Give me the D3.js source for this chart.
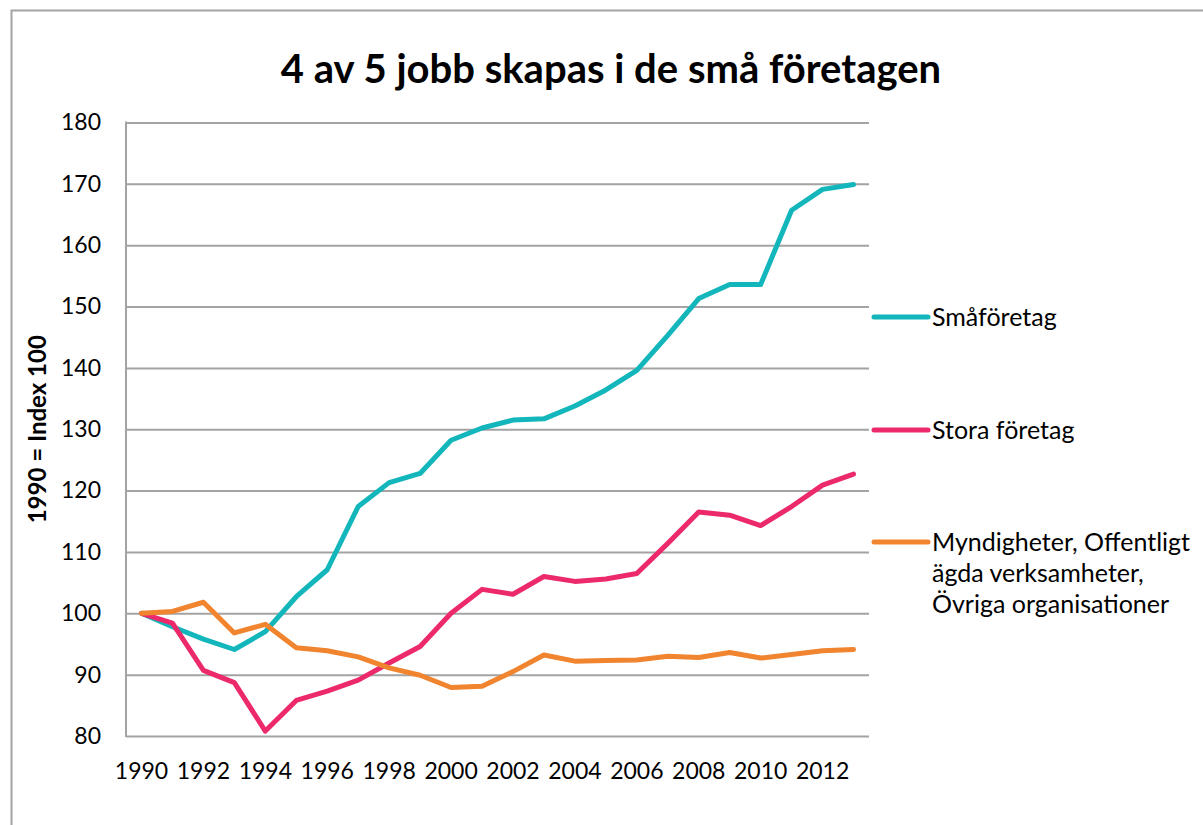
<!DOCTYPE html>
<html>
<head>
<meta charset="utf-8">
<script src="https://cdn.jsdelivr.net/npm/d3@7"></script>
<style>
  body { margin: 0; background: #fff; }
  svg text { font-family: Lato, "Open Sans", sans-serif; fill: #000; }
  .grid line { stroke: #a3a3a3; stroke-width: 2; }
  .line { fill: none; stroke-width: 5; stroke-linejoin: round; stroke-linecap: round; }
</style>
</head>
<body>
<div id="chart"></div>
<script>
var w = 1203;
var h = 825;

// data (1990 = index 100)
var years = d3.range(1990, 2014);
var smaforetag = [100, 97.8, 95.8, 94.1, 97.0, 102.7, 107.1, 117.4, 121.3, 122.8, 128.2, 130.2,
                  131.5, 131.7, 133.8, 136.4, 139.6, 145.3, 151.3, 153.6, 153.6, 165.7, 169.1, 169.9];
var storaForetag = [100, 98.4, 90.7, 88.7, 80.8, 85.8, 87.3, 89.1, 91.9, 94.6, 100.0, 103.9,
                    103.1, 106.0, 105.2, 105.6, 106.5, 111.4, 116.5, 116.0, 114.3, 117.4, 120.9, 122.7];
var myndigheter = [100, 100.3, 101.8, 96.8, 98.2, 94.4, 93.9, 92.9, 91.1, 89.9, 87.9, 88.1,
                   90.5, 93.2, 92.2, 92.3, 92.4, 93.0, 92.8, 93.6, 92.7, 93.3, 93.9, 94.1];
var seriesNames = [["Småföretag"], ["Stora företag"],
                   ["Myndigheter, Offentligt", "ägda verksamheter,", "Övriga organisationer"]];
var seriesColors = ["#12b6bb", "#ec2a6b", "#f1842f"];
var yTicks = [80, 90, 100, 110, 120, 130, 140, 150, 160, 170, 180];
var xTickLabels = [1990, 1992, 1994, 1996, 1998, 2000, 2002, 2004, 2006, 2008, 2010, 2012];

// plot area edges
var pLeft = 126, pRight = 869, pTop = 122.5, pBottom = 736;

var series = [smaforetag, storaForetag, myndigheter].map(function(vals, i) {
    return {
        name: seriesNames[i],
        color: seriesColors[i],
        values: vals.map(function(v, j) { return { year: years[j], value: v }; })
    };
});

var svg = d3.select("#chart")
    .append("svg")
    .attr("width", w)
    .attr("height", h);

// outer chart border (runs off the right and bottom of the picture)
svg.append("rect")
    .attr("x", 11.5)
    .attr("y", 10.5)
    .attr("width", 1300)
    .attr("height", 900)
    .attr("fill", "none")
    .attr("stroke", "#a3a3a3")
    .attr("stroke-width", 2);

var xScale = d3.scaleBand()
    .domain(years)
    .range([pLeft, pRight]);

var yScale = d3.scaleLinear()
    .domain([80, 180])
    .range([pBottom, pTop]);

function cx(year) { return xScale(year) + xScale.bandwidth() / 2; }

// y axis with gridlines
var yAxis = d3.axisLeft(yScale)
    .tickValues(yTicks)
    .tickSize(-(pRight - pLeft))
    .tickPadding(25);

var gy = svg.append("g")
    .attr("class", "grid")
    .attr("transform", "translate(" + pLeft + ",0)")
    .call(yAxis);
gy.select(".domain").remove();
gy.selectAll("text").style("font-size", "23px");

svg.append("line")
    .attr("x1", pLeft).attr("x2", pLeft)
    .attr("y1", pTop - 1).attr("y2", pBottom + 1)
    .attr("stroke", "#a3a3a3")
    .attr("stroke-width", 2);

// x axis labels, every other year
var xAxis = d3.axisBottom(xScale)
    .tickValues(xTickLabels)
    .tickSize(0)
    .tickPadding(27);

var gx = svg.append("g")
    .attr("transform", "translate(0," + pBottom + ")")
    .call(xAxis);
gx.select(".domain").remove();
gx.selectAll("text").style("font-size", "23px");

var line = d3.line()
    .x(function(d) { return cx(d.year); })
    .y(function(d) { return yScale(d.value); });

svg.selectAll(".line")
    .data(series)
    .enter()
    .append("path")
    .attr("class", "line")
    .attr("stroke", function(d) { return d.color; })
    .attr("d", function(d) { return line(d.values); });

// title
svg.append("text")
    .attr("x", 611)
    .attr("y", 83)
    .attr("text-anchor", "middle")
    .style("font-size", "40px")
    .style("font-weight", "bold")
    .text("4 av 5 jobb skapas i de små företagen");

// y axis title
svg.append("text")
    .attr("transform", "translate(46," + ((pTop + pBottom) / 2) + ") rotate(-90)")
    .attr("text-anchor", "middle")
    .style("font-size", "24px")
    .style("font-weight", "bold")
    .text("1990 = Index 100");

// legend
var legendY = [317, 430, 542];
var legend = svg.selectAll(".legend")
    .data(series)
    .enter()
    .append("g")
    .attr("class", "legend")
    .attr("transform", function(d, i) { return "translate(874," + legendY[i] + ")"; });

legend.append("line")
    .attr("x1", 0).attr("x2", 54)
    .attr("y1", 0).attr("y2", 0)
    .attr("stroke", function(d) { return d.color; })
    .attr("stroke-width", 5)
    .attr("stroke-linecap", "round");

legend.append("text")
    .attr("x", 58)
    .attr("y", 9)
    .style("font-size", "25px")
    .selectAll("tspan")
    .data(function(d) { return d.name; })
    .enter()
    .append("tspan")
    .attr("x", 58)
    .attr("dy", function(d, i) { return i === 0 ? 0 : 31; })
    .text(function(d) { return d; });
</script>
</body>
</html>
